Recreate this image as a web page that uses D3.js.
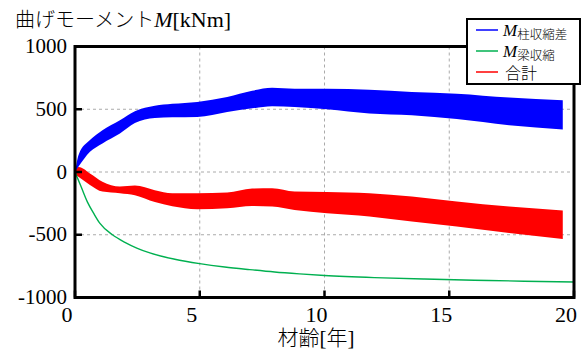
<!DOCTYPE html>
<html>
<head>
<meta charset="utf-8">
<script src="https://cdn.jsdelivr.net/npm/d3@7"></script>
<style>
body { margin: 0; background: #fff; }
svg text { fill: #000; }
</style>
</head>
<body>
<script>
// years at which the band edges were read
var years = [0, 0.15, 0.6, 1.1, 1.8, 2.4, 3.2, 3.9, 4.9, 6.1, 7.1, 7.9, 8.8, 10.1, 11.8, 13.5, 15.3, 17.4, 19.55];
// M 柱収縮差 (blue band, upper / lower edge)
var colUpper = [0, 140, 254, 333, 413, 485, 528, 543, 558, 598, 648, 672, 664, 664, 656, 638, 624, 593, 571];
var colLower = [0, 45, 161, 228, 307, 390, 430, 436, 439, 479, 507, 524, 518, 500, 466, 452, 422, 373, 339];
// 合計 (red band)
var sumUpper = [20, 40, -11, -77, -116, -108, -145, -169, -169, -164, -132, -130, -156, -160, -169, -196, -235, -275, -307];
var sumLower = [-20, -40, -103, -156, -169, -185, -240, -272, -296, -288, -270, -275, -302, -328, -354, -394, -434, -487, -534];
// M 梁収縮 (green line)
var beamYears = [0, 0.25, 0.5, 0.75, 1, 1.5, 2, 2.5, 3, 4, 5, 6, 7, 8, 9, 10, 12, 14, 16, 18, 20];
var beamM = [0, -120, -240, -330, -410, -500, -560, -608, -645, -695, -730, -757, -778, -797, -812, -825, -842, -853, -862, -870, -876];

var xTicks = [0, 5, 10, 15, 20];
var yTicks = [-1000, -500, 0, 500, 1000];

var W = 585, H = 356;
var pLeft = 75, pRight = 574, pTop = 46.5, pBottom = 297.5;
var serif = "'Liberation Serif', 'Times New Roman', serif";
var jp = "'Noto Sans CJK JP', sans-serif";

var x = d3.scaleLinear().domain([0, 20]).range([pLeft, pRight]);
var y = d3.scaleLinear().domain([-1000, 1000]).range([pBottom, pTop]);

var svg = d3.select("body").append("svg")
    .attr("width", W)
    .attr("height", H);

// grid
svg.selectAll(".gx").data([5, 10, 15]).enter().append("line")
    .attr("x1", d => x(d)).attr("x2", d => x(d))
    .attr("y1", pTop).attr("y2", pBottom)
    .attr("stroke", "#aaa").attr("stroke-dasharray", "3,3");
svg.selectAll(".gy").data([-500, 0, 500]).enter().append("line")
    .attr("x1", pLeft).attr("x2", pRight)
    .attr("y1", d => y(d)).attr("y2", d => y(d))
    .attr("stroke", "#aaa").attr("stroke-dasharray", "3,3");

// bands
var band = function(up, lo) {
    return d3.area()
        .x((d, i) => x(years[i]))
        .y0((d, i) => y(lo[i]))
        .y1((d, i) => y(up[i]))
        .curve(d3.curveMonotoneX)(years);
};
svg.append("path").attr("d", band(sumUpper, sumLower)).attr("fill", "#ff0000");
svg.append("path").attr("d", band(colUpper, colLower)).attr("fill", "#0000ff");

// green line
var line = d3.line()
    .x((d, i) => x(beamYears[i]))
    .y(d => y(d))
    .curve(d3.curveMonotoneX);
svg.append("path").attr("d", line(beamM))
    .attr("fill", "none").attr("stroke", "#00b050").attr("stroke-width", 1.4);

// ticks (inward)
svg.selectAll(".tx").data(xTicks).enter().append("line")
    .attr("x1", d => x(d)).attr("x2", d => x(d))
    .attr("y1", pBottom).attr("y2", pBottom - 7)
    .attr("stroke", "#000").attr("stroke-width", 2.5);
svg.selectAll(".ty").data(yTicks).enter().append("line")
    .attr("x1", pLeft).attr("x2", pLeft + 7)
    .attr("y1", d => y(d)).attr("y2", d => y(d))
    .attr("stroke", "#000").attr("stroke-width", 2.5);

// frame
svg.append("rect")
    .attr("x", pLeft).attr("y", pTop)
    .attr("width", pRight - pLeft).attr("height", pBottom - pTop)
    .attr("fill", "none").attr("stroke", "#000").attr("stroke-width", 3);

// tick labels
svg.selectAll(".lx").data(xTicks).enter().append("text")
    .attr("x", d => x(d) - 8).attr("y", 322)
    .attr("text-anchor", "middle")
    .style("font-family", serif).style("font-size", "22px")
    .text(d => d);
svg.selectAll(".ly").data(yTicks).enter().append("text")
    .attr("x", 67).attr("y", d => y(d) + 6.5)
    .attr("text-anchor", "end")
    .style("font-family", serif).style("font-size", "21px")
    .text(d => d);

// titles
var t = svg.append("text").attr("x", 15).attr("y", 27).style("font-size", "20px");
t.append("tspan").style("font-family", jp).style("font-weight", 300).text("曲げモーメント");
t.append("tspan").style("font-family", serif).style("font-style", "italic").style("font-size", "22px").text("M");
t.append("tspan").style("font-family", serif).style("font-size", "22px").text("[kNm]");

var xt = svg.append("text").attr("x", 316).attr("y", 345)
    .attr("text-anchor", "middle").style("font-size", "21px");
xt.append("tspan").style("font-family", jp).style("font-weight", 300).text("材齢");
xt.append("tspan").style("font-family", serif).text("[");
xt.append("tspan").style("font-family", jp).style("font-weight", 300).text("年");
xt.append("tspan").style("font-family", serif).text("]");

// legend
var lg = svg.append("g");
lg.append("rect").attr("x", 467).attr("y", 19).attr("width", 113).attr("height", 65)
    .attr("fill", "#fff").attr("stroke", "#000").attr("stroke-width", 2);
var items = [
    {c: "#0000ff", m: true, s: "柱収縮差"},
    {c: "#00b050", m: true, s: "梁収縮"},
    {c: "#ff0000", m: false, s: "合計"}
];
var legY = [30, 51, 72];
items.forEach(function(it, i) {
    lg.append("line").attr("x1", 476).attr("x2", 498)
        .attr("y1", legY[i]).attr("y2", legY[i])
        .attr("stroke", it.c).attr("stroke-width", 1.5);
    if (it.m) {
        var tx = lg.append("text").attr("x", 503).attr("y", legY[i] + 6);
        tx.append("tspan").style("font-family", serif).style("font-style", "italic")
            .style("font-size", "17px").text("M");
        tx.append("tspan").attr("dy", 3).style("font-family", jp).style("font-weight", 300)
            .style("font-size", "12.5px").text(it.s);
    } else {
        lg.append("text").attr("x", 505).attr("y", legY[i] + 7)
            .style("font-family", jp).style("font-weight", 300)
            .style("font-size", "16px").text(it.s);
    }
});
</script>
</body>
</html>
